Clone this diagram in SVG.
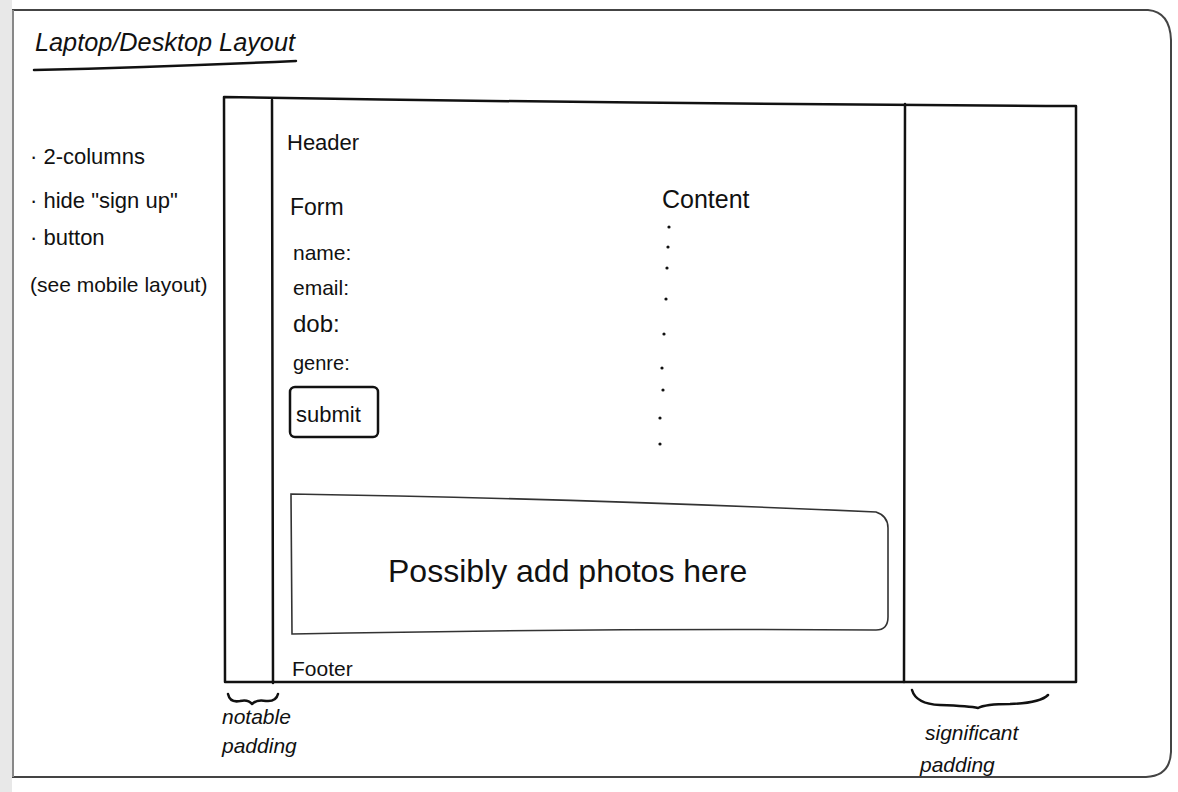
<svg xmlns="http://www.w3.org/2000/svg" width="1178" height="792" viewBox="0 0 1178 792">
<style>
.ln{fill:none;stroke:#111;stroke-width:2.5;stroke-linecap:round;stroke-linejoin:round}
.th{fill:none;stroke:#333;stroke-width:1.6;stroke-linecap:round}
.t{font-family:"Liberation Sans",Arial,sans-serif;fill:#111}
.dot{fill:#111}
</style>
<rect x="0" y="0" width="1178" height="792" fill="#ffffff"/>
<rect x="0" y="0" width="12" height="792" fill="#e8e8e8"/>
<g id="paper">
<path d="M12,10 H1148 Q1170,12 1171,40 V752 Q1170,776 1146,777 H12" fill="#ffffff" stroke="#444" stroke-width="2"/>
<line x1="13" y1="10" x2="13" y2="777" stroke="#888" stroke-width="2"/>
</g>
<g id="title">
<text class="t" x="35" y="51" font-size="25" font-style="italic" textLength="260" lengthAdjust="spacingAndGlyphs">Laptop/Desktop Layout</text>
<path class="ln" d="M34,70 Q160,67 296,61" stroke-width="2"/>
</g>
<g id="notes">
<text class="t" x="30" y="164" font-size="22">· 2-columns</text>
<text class="t" x="30" y="208" font-size="22">· hide "sign up"</text>
<text class="t" x="30" y="245" font-size="22">· button</text>
<text class="t" x="30" y="292" font-size="21">(see mobile layout)</text>
</g>
<g id="page-frame">
<path class="ln" d="M224,97 Q650,104 1076,106 V682 H225 Z" stroke-width="3"/>
</g>
<g id="left-padding">
<line class="ln" x1="272" y1="100" x2="273" y2="683"/>
</g>
<g id="right-padding">
<line class="ln" x1="905" y1="104" x2="904" y2="682" stroke-width="2"/>
</g>
<g id="header">
<text class="t" x="287" y="150" font-size="22">Header</text>
</g>
<g id="form">
<text class="t" x="290" y="215" font-size="23">Form</text>
<text class="t" x="293" y="260" font-size="21">name:</text>
<text class="t" x="293" y="295" font-size="21">email:</text>
<text class="t" x="293" y="332" font-size="24">dob:</text>
<text class="t" x="293" y="370" font-size="20">genre:</text>
</g>
<g id="submit">
<rect class="ln" x="290" y="387" width="88" height="50" rx="5" stroke-width="2.2"/>
<text class="t" x="296" y="422" font-size="22">submit</text>
</g>
<g id="content">
<text class="t" x="662" y="208" font-size="25">Content</text>
<circle class="dot" cx="669" cy="227" r="1.6"/>
<circle class="dot" cx="668" cy="247" r="1.6"/>
<circle class="dot" cx="667" cy="268" r="1.6"/>
<circle class="dot" cx="666" cy="299" r="1.6"/>
<circle class="dot" cx="664" cy="334" r="1.6"/>
<circle class="dot" cx="662" cy="368" r="1.6"/>
<circle class="dot" cx="663" cy="390" r="1.6"/>
<circle class="dot" cx="660" cy="418" r="1.6"/>
<circle class="dot" cx="660" cy="444" r="1.6"/>
</g>
<g id="photos">
<path class="th" d="M291,494 Q560,498 876,512 Q888,516 888,528 V617 Q888,630 876,630 Q600,628 292,634 Z"/>
<text class="t" x="388" y="582" font-size="32">Possibly add photos here</text>
</g>
<g id="footer">
<text class="t" x="292" y="676" font-size="21">Footer</text>
</g>
<g id="connectors">
<path class="ln" d="M228,694 Q230,703 240,701 Q248,699 252,704 Q257,699 266,701 Q276,702 278,694" stroke-width="2"/>
<path class="ln" d="M912,690 Q916,704 940,705 Q970,706 978,708 Q985,704 1010,704 Q1040,703 1048,695" stroke-width="2"/>
</g>
<g id="notable-padding">
<text class="t" x="222" y="724" font-size="21" font-style="italic">notable</text>
<text class="t" x="222" y="753" font-size="21" font-style="italic">padding</text>
</g>
<g id="significant-padding">
<text class="t" x="925" y="740" font-size="21" font-style="italic">significant</text>
<text class="t" x="920" y="772" font-size="21" font-style="italic">padding</text>
</g>
</svg>
